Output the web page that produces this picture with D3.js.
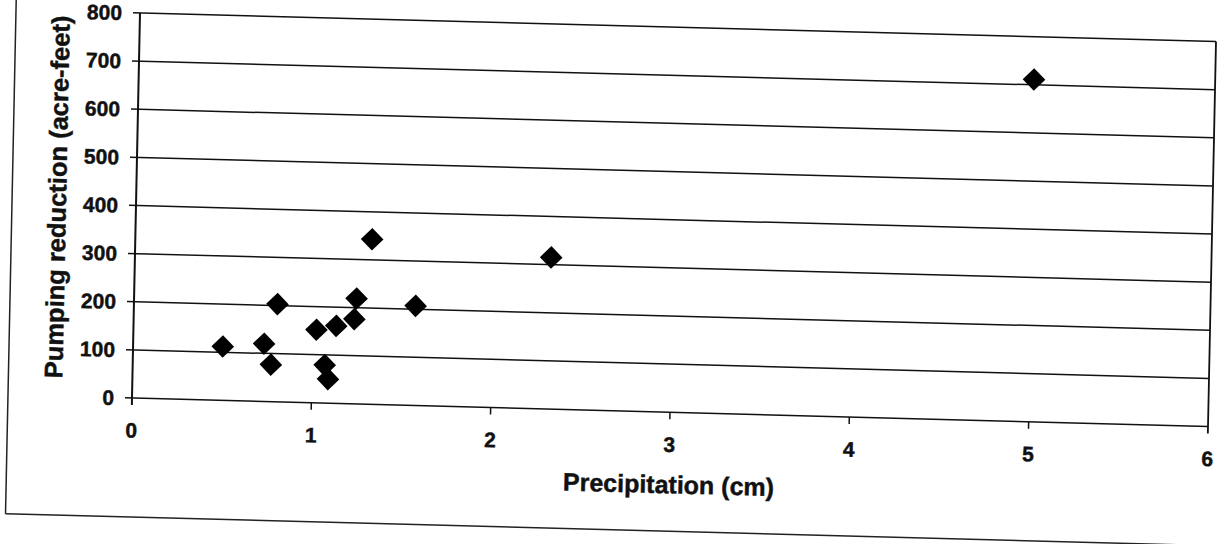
<!DOCTYPE html>
<html>
<head>
<meta charset="utf-8">
<script src="https://cdn.jsdelivr.net/npm/d3@7"></script>
<style>
  html, body { margin: 0; padding: 0; background: #fff; }
  svg { display: block; }
  text { font-family: Arial, "Liberation Sans", sans-serif; font-weight: bold; fill: #111; stroke: #111; stroke-width: 0.45px; }
</style>
</head>
<body>
<svg id="chart" width="1227" height="544"></svg>
<script>
// Data
const precipitation = [0.50, 0.73, 0.77, 0.80, 1.02, 1.13, 1.07, 1.09, 1.23, 1.24, 1.32, 1.57, 2.32, 4.99];
const pumpingReduction = [112, 120, 77, 203, 152, 161, 79, 50, 176, 219, 343, 207, 315, 711];
const xTicks = [0, 1, 2, 3, 4, 5, 6];
const yTicks = [0, 100, 200, 300, 400, 500, 600, 700, 800];
const xTitle = "Precipitation (cm)";
const yTitle = "Pumping reduction (acre-feet)";

const W = 1076, H = 385;
const svg = d3.select("#chart");
svg.append("rect").attr("width", 1227).attr("height", 544).attr("fill", "#fff");

// scanned page is slightly skewed/rotated
const g = svg.append("g").attr("transform", "matrix(1,0.0265,-0.0208,1,140,13)");

const x = d3.scaleLinear().domain([0, 6]).range([0, W]);
const y = d3.scaleLinear().domain([0, 800]).range([H, 0]);

// outer frame (left and bottom edges visible)
g.append("line").attr("x1", -124).attr("x2", -124).attr("y1", -25).attr("y2", 504)
  .attr("stroke", "#222").attr("stroke-width", 1.5);
g.append("line").attr("x1", -124).attr("x2", 1078).attr("y1", 504).attr("y2", 504)
  .attr("stroke", "#222").attr("stroke-width", 1.5);

// horizontal gridlines with left ticks
g.append("g").selectAll("line").data(yTicks).join("line")
  .attr("x1", -7).attr("x2", W)
  .attr("y1", d => y(d)).attr("y2", d => y(d))
  .attr("stroke", "#111").attr("stroke-width", 1.5);

// y tick labels
g.append("g").selectAll("text").data(yTicks).join("text")
  .attr("x", -18).attr("y", d => y(d)).attr("dy", "0.36em")
  .attr("text-anchor", "end").attr("font-size", 21)
  .text(d => d);

// left axis and right border
g.append("line").attr("x1", 0).attr("x2", 0).attr("y1", 0).attr("y2", H + 7)
  .attr("stroke", "#111").attr("stroke-width", 2);
g.append("line").attr("x1", W).attr("x2", W).attr("y1", 0).attr("y2", H + 7)
  .attr("stroke", "#111").attr("stroke-width", 1.8);

// x ticks
g.append("g").selectAll("line").data(xTicks.slice(1, -1)).join("line")
  .attr("x1", d => x(d)).attr("x2", d => x(d))
  .attr("y1", H).attr("y2", H + 7)
  .attr("stroke", "#111").attr("stroke-width", 1.5);

// x tick labels
g.append("g").selectAll("text").data(xTicks).join("text")
  .attr("x", d => x(d)).attr("y", H + 32).attr("dy", "0.36em")
  .attr("text-anchor", "middle").attr("font-size", 21)
  .text(d => d);

// axis titles
g.append("text").attr("x", W / 2).attr("y", 466)
  .attr("text-anchor", "middle").attr("font-size", 25)
  .text(xTitle);
g.append("text").attr("transform", "translate(-70,186) rotate(-90)")
  .attr("text-anchor", "middle").attr("font-size", 25.5)
  .text(yTitle);

// diamond markers
const diamond = d3.symbol().type(d3.symbolSquare).size(256);
g.append("g").selectAll("path").data(precipitation.map((p, i) => [p, pumpingReduction[i]])).join("path")
  .attr("d", diamond)
  .attr("transform", d => `translate(${x(d[0])},${y(d[1])}) rotate(45)`)
  .attr("fill", "#000");
</script>
</body>
</html>
